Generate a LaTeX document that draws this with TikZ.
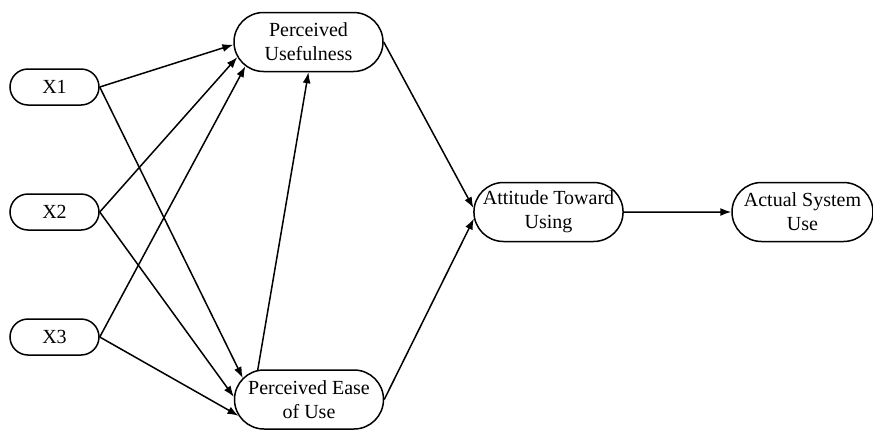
\documentclass[tikz,border=0pt]{standalone}
\usepackage{fontspec}
\setmainfont{Liberation Serif}
\usetikzlibrary{arrows.meta, shapes.misc}

\begin{document}
\begin{tikzpicture}[x=1pt, y=-1pt, line width=1.5pt,
    construct/.style={draw, rounded rectangle, align=center, inner sep=0pt, minimum width=149pt, minimum height=59pt, font=\fontsize{20}{24}\selectfont},
    ext/.style={construct, minimum width=89pt, minimum height=36pt},
    link/.style={-{Latex[length=11pt, width=8pt]}}]
    \useasboundingbox (0,0) rectangle (873,429);

    % External variables
    \foreach \n/\y in {1/87, 2/212, 3/337} {
        \node[ext] (X\n) at (54.5,\y) {X\n};
    }

    % TAM constructs
    \node[construct] (PU) at (308.5,42) {Perceived\\Usefulness};
    \node[construct] (PEU) at (309,399.5) {Perceived Ease\\of Use};
    \node[construct] (ATU) at (548.5,212) {Attitude Toward\\Using};
    \node[construct, minimum width=141pt] (ASU) at (802.5,212) {Actual System\\Use};

    % Paths from external variables
    \draw[link] (X1.east) -- (PU.182);
    \draw[link] (X2.east) -- (PU.192);
    \draw[link] (X3.east) -- (PU.201);
    \draw[link] (X1.east) -- (PEU.162);
    \draw[link] (X2.east) -- (PEU.178);
    \draw[link] (X3.east) -- (PEU.193);

    % Paths between constructs
    \draw[link] (PEU.150) -- (PU.south);
    \draw[link] (PU.east) -- (ATU.177);
    \draw[link] (PEU.east) -- (ATU.185);
    \draw[link] (ATU) -- (ASU);
\end{tikzpicture}
\end{document}
